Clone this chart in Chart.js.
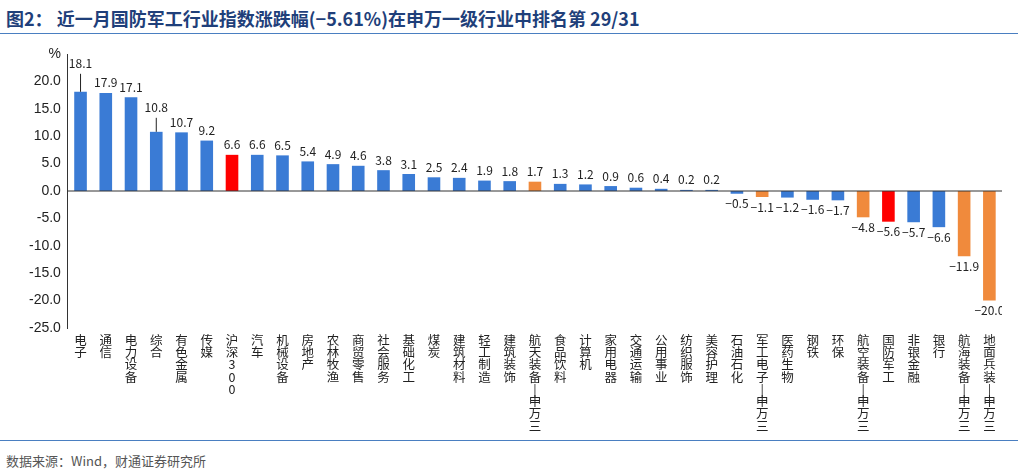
<!DOCTYPE html>
<html><head><meta charset="utf-8">
<script src="https://cdn.jsdelivr.net/npm/chart.js@4"></script>
<style>
body{margin:0;width:1018px;height:472px;background:#fff;font-family:"Noto Sans CJK SC",sans-serif;position:relative;overflow:hidden}
#t{position:absolute;left:6px;top:5px;font-size:18px;font-weight:bold;color:#1f3f7a}
#l1{position:absolute;left:0;top:33px;width:1018px;height:1px;background:#4a7fc1}
#l2{position:absolute;left:0;top:440px;width:1018px;height:1px;background:#4a7fc1}
#s{position:absolute;left:6px;top:451px;font-size:13px;color:#555}
#w{position:absolute;left:0;top:40px;width:1002px;height:398px}
</style></head><body>
<div id="t">图2：&nbsp;近一月国防军工行业指数涨跌幅(−5.61%)在申万一级行业中排名第 29/31</div>
<div id="l1"></div><div id="l2"></div>
<div id="s">数据来源：Wind，财通证券研究所</div>
<div id="w"><canvas id="c"></canvas></div>
<script>
const categories=["电子","通信","电力设备","综合","有色金属","传媒","沪深300","汽车","机械设备","房地产","农林牧渔","商贸零售","社会服务","基础化工","煤炭","建筑材料","轻工制造","建筑装饰","航天装备-申万三","食品饮料","计算机","家用电器","交通运输","公用事业","纺织服饰","美容护理","石油石化","军工电子-申万三","医药生物","钢铁","环保","航空装备-申万三","国防军工","非银金融","银行","航海装备-申万三","地面兵装-申万三"];
const values=[18.1,17.9,17.1,10.8,10.7,9.2,6.6,6.6,6.5,5.4,4.9,4.6,3.8,3.1,2.5,2.4,1.9,1.8,1.7,1.3,1.2,0.9,0.6,0.4,0.2,0.2,-0.5,-1.1,-1.2,-1.6,-1.7,-4.8,-5.6,-5.7,-6.6,-11.9,-20.0];
const yTicks=[25,20,15,10,5,0,-5,-10,-15,-20,-25];
const BLUE="#3a7bd5",ORANGE="#f08a3c",RED="#ff0000";
const colors=categories.map(c=>c.includes("申万三")?ORANGE:(c==="沪深300"||c==="国防军工")?RED:BLUE);
const lift={0:18,3:14};
const labelPlugin={id:"lbl",afterDatasetsDraw(ch){
 const ctx=ch.ctx,meta=ch.getDatasetMeta(0);ctx.save();
 ctx.font="12px 'Noto Sans CJK SC',sans-serif";ctx.fillStyle="#222";ctx.textAlign="center";
 meta.data.forEach((b,i)=>{const v=values[i];const txt=v.toFixed(1).replace('-','−');
  if(v>=0){const up=lift[i]||0;
   if(up){ctx.strokeStyle="#222";ctx.lineWidth=1;ctx.beginPath();ctx.moveTo(b.x,b.y);ctx.lineTo(b.x,b.y-up);ctx.stroke();}
   ctx.textBaseline="bottom";ctx.fillText(txt,b.x,b.y-4-up);}
  else{ctx.textBaseline="top";ctx.fillText(txt,b.x,b.y+4);}
 });ctx.restore();}};
new Chart(document.getElementById("c"),{type:"bar",
 data:{labels:categories.map(c=>c.replace('-','|').split('')),datasets:[{data:values,backgroundColor:colors,barPercentage:0.5,categoryPercentage:1}]},
 options:{responsive:true,maintainAspectRatio:false,animation:false,
  layout:{padding:{top:14,left:26,right:0}},
  plugins:{legend:{display:false},tooltip:{enabled:false}},
  scales:{
   x:{grid:{display:false,drawTicks:false},border:{display:false},
      ticks:{maxRotation:0,minRotation:0,autoSkip:false,color:"#222",font:{size:12.5,family:"'Noto Sans CJK SC'",lineHeight:0.98},padding:6}},
   y:{min:-25,max:25,afterBuildTicks(a){a.ticks=yTicks.map(v=>({value:v}));},
      grid:{display:false,drawTicks:true,tickLength:4},border:{display:true,color:"#333"},
      ticks:{color:"#222",font:{size:14},callback:v=>v===25?"%":v.toFixed(1)}}
  }},
 plugins:[labelPlugin,{id:"zero",afterDatasetsDraw(ch){const y=ch.scales.y.getPixelForValue(0),a=ch.chartArea,ctx=ch.ctx;ctx.save();ctx.strokeStyle="#333";ctx.lineWidth=1;ctx.beginPath();ctx.moveTo(a.left,y);ctx.lineTo(a.right,y);ctx.stroke();ctx.restore();}}]
});
</script></body></html>
